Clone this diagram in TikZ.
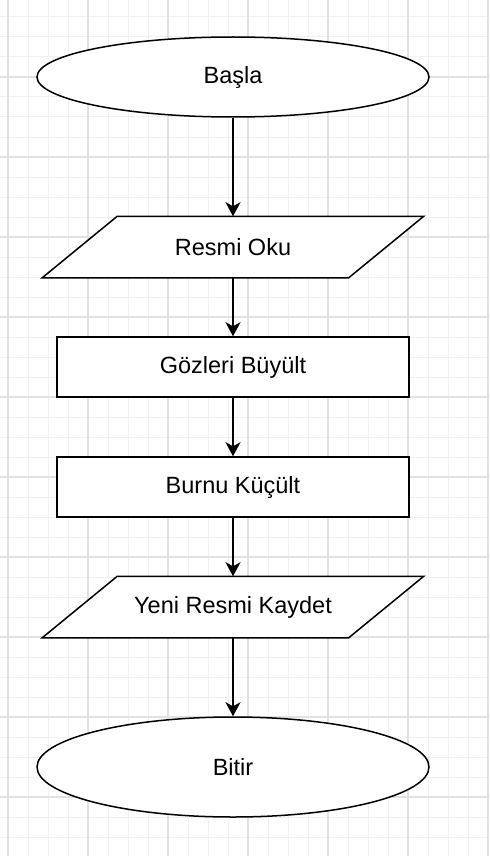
\documentclass[tikz,border=0pt]{standalone}
\usepackage{fontspec}
\setmainfont{Liberation Sans}
\usetikzlibrary{shapes.geometric,arrows.meta}
\definecolor{gridminor}{HTML}{F1F1F1}
\definecolor{gridmajor}{HTML}{E2E2E2}
\tikzset{
  base/.style={font=\fontsize{23.5}{28}\selectfont, line width=1.5pt, inner sep=0pt},
  terminal/.style={base, ellipse, draw, fill=white, minimum width=392pt},
  procbox/.style={base, rectangle, draw, fill=white, minimum width=352pt, minimum height=60pt},
  iotext/.style={base, rectangle, minimum width=305pt, minimum height=60pt},
  ioshape/.style={line width=1.5pt, fill=white, line join=miter},
  flow/.style={line width=1.5pt, -{Stealth[length=14pt, width=15pt, inset=4pt]}}
}
\begin{document}
\begin{tikzpicture}[x=1pt,y=-1pt]
\useasboundingbox (0,0) rectangle (490,856);
\fill[white] (0,0) rectangle (490,856);
% grid
\foreach \i in {0,...,24} {\draw[gridminor, line width=1pt] ({8+20*\i},0) -- ({8+20*\i},856);}
\foreach \i in {0,...,42} {\draw[gridminor, line width=1pt] (0,{17+20*\i}) -- (490,{17+20*\i});}
\foreach \i in {0,...,6} {\draw[gridmajor, line width=1.2pt] ({8+80*\i},0) -- ({8+80*\i},856);}
\foreach \i in {0,...,10} {\draw[gridmajor, line width=1.2pt] (0,{-3+80*\i}) -- (490,{-3+80*\i});}

% nodes
\node[terminal, minimum height=80pt] (start) at (233,77) {Başla};

\node[iotext] (oku) at (233,247) {};
\draw[ioshape] ([xshift=-37.5pt]oku.south west) -- ([xshift=-37.5pt]oku.south east)
  -- ([xshift=37.5pt]oku.north east) -- ([xshift=37.5pt]oku.north west) -- cycle;
\node[base] at (oku.center) {Resmi Oku};

\node[procbox] (goz) at (233,367) {Gözleri Büyült};
\node[procbox] (burun) at (233,487) {Burnu Küçült};

\node[iotext] (kaydet) at (233,607) {};
\draw[ioshape] ([xshift=-37.5pt]kaydet.south west) -- ([xshift=-37.5pt]kaydet.south east)
  -- ([xshift=37.5pt]kaydet.north east) -- ([xshift=37.5pt]kaydet.north west) -- cycle;
\node[base] at (kaydet.center) {Yeni Resmi Kaydet};

\node[terminal, minimum height=100pt] (end) at (233,767) {Bitir};

% connectors
\draw[flow] (start.south) -- (oku.north);
\draw[flow] (oku.south) -- (goz.north);
\draw[flow] (goz.south) -- (burun.north);
\draw[flow] (burun.south) -- (kaydet.north);
\draw[flow] (kaydet.south) -- (end.north);
\end{tikzpicture}
\end{document}
